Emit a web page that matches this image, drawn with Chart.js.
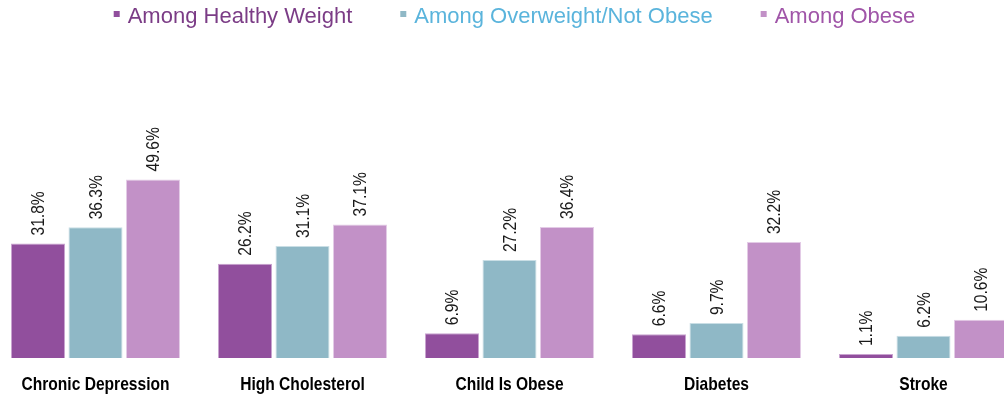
<!DOCTYPE html>
<html>
<head>
<meta charset="utf-8">
<script src="https://cdn.jsdelivr.net/npm/chart.js@4.4.1/dist/chart.umd.min.js"></script>
<style>
  body { margin: 0; background: #fff; overflow: hidden; width: 1004px; height: 394px; position: relative; }
  #wrap { position: absolute; left: -8px; top: 0; width: 1035px; height: 394px; }
</style>
</head>
<body>
<div id="wrap"><canvas id="barChart"></canvas></div>
<script>
var categories = ["Chronic Depression", "High Cholesterol", "Child Is Obese", "Diabetes", "Stroke"];
var seriesNames = ["Among Healthy Weight", "Among Overweight/Not Obese", "Among Obese"];
var healthyWeight = [31.8, 26.2, 6.9, 6.6, 1.1];
var overweightNotObese = [36.3, 31.1, 27.2, 9.7, 6.2];
var obese = [49.6, 37.1, 36.4, 32.2, 10.6];

var barColors = ["#914f9d", "#8fb8c6", "#c291c7"];
var barEdges = ["#c9a3d0", "#c9dee5", "#e3cbe6"];
var legendTextColors = ["#7b3c86", "#5ab4dc", "#a055a8"];
var sans = '"Liberation Sans", Arial, sans-serif';
var squeeze = 0.82; // no narrow font installed, so text is squeezed by hand

// value labels, rotated, above each bar
var barLabels = {
    id: 'barLabels',
    afterDatasetsDraw: function(chart) {
        var ctx = chart.ctx;
        ctx.save();
        ctx.font = '19px ' + sans;
        ctx.fillStyle = '#1a1a1a';
        ctx.textAlign = 'left';
        ctx.textBaseline = 'middle';
        chart.data.datasets.forEach(function(ds, i) {
            chart.getDatasetMeta(i).data.forEach(function(bar, j) {
                ctx.save();
                ctx.translate(bar.x + 1, bar.y - 8);
                ctx.rotate(-Math.PI / 2);
                ctx.scale(squeeze, 1);
                ctx.fillText(ds.data[j].toFixed(1) + '%', 0, 0);
                ctx.restore();
            });
        });
        ctx.restore();
    }
};

// category names under the axis, placed from the x scale
var catLabels = {
    id: 'catLabels',
    afterDraw: function(chart) {
        var ctx = chart.ctx;
        var xs = chart.scales.x;
        ctx.save();
        ctx.font = 'bold 19px ' + sans;
        ctx.fillStyle = '#000';
        ctx.textAlign = 'center';
        ctx.textBaseline = 'alphabetic';
        chart.data.labels.forEach(function(lab, i) {
            ctx.save();
            ctx.translate(xs.getPixelForTick(i), chart.chartArea.bottom + 32);
            ctx.scale(squeeze, 1);
            ctx.fillText(lab, 0, 0);
            ctx.restore();
        });
        ctx.restore();
    }
};

// legend drawn by hand so spacing matches
var topLegend = {
    id: 'topLegend',
    afterDraw: function(chart) {
        var ctx = chart.ctx;
        ctx.save();
        ctx.font = '22px ' + sans;
        ctx.textBaseline = 'alphabetic';
        var box = 6, gapText = 8, gapItem = 48;
        var total = 0;
        var widths = chart.data.datasets.map(function(ds) {
            return ctx.measureText(ds.label).width;
        });
        widths.forEach(function(w) { total += box + gapText + w; });
        total += gapItem * (widths.length - 1);
        var x = chart.width / 2 + 5 - total / 2;
        chart.data.datasets.forEach(function(ds, i) {
            ctx.fillStyle = ds.backgroundColor;
            ctx.fillRect(x, 11, box, box);
            x += box + gapText;
            ctx.fillStyle = legendTextColors[i];
            ctx.fillText(ds.label, x, 23);
            x += widths[i] + gapItem;
        });
        ctx.restore();
    }
};

var ctxB = document.getElementById("barChart");
var chartB = new Chart(ctxB, {
    type: 'bar',
    data: {
        labels: categories,
        datasets: [
            { label: seriesNames[0], data: healthyWeight, backgroundColor: barColors[0], borderColor: barEdges[0] },
            { label: seriesNames[1], data: overweightNotObese, backgroundColor: barColors[1], borderColor: barEdges[1] },
            { label: seriesNames[2], data: obese, backgroundColor: barColors[2], borderColor: barEdges[2] }
        ]
    },
    options: {
        responsive: true,
        maintainAspectRatio: false,
        animation: false,
        layout: { padding: { top: 70, bottom: 36, left: 0, right: 0 } },
        datasets: { bar: { categoryPercentage: 0.833, barPercentage: 0.94, borderWidth: 1 } },
        plugins: {
            legend: { display: false },
            tooltip: { enabled: false }
        },
        scales: {
            x: {
                grid: { display: false, drawTicks: false },
                border: { display: false },
                ticks: { display: false }
            },
            y: {
                display: false,
                min: 0,
                max: 80
            }
        }
    },
    plugins: [barLabels, catLabels, topLegend]
});
</script>
</body>
</html>
